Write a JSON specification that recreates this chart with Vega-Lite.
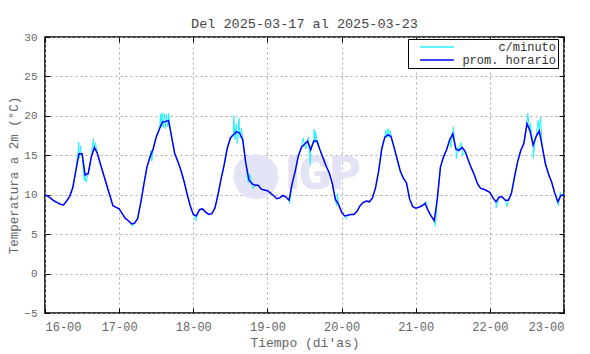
{
  "$schema": "https://vega.github.io/schema/vega-lite/v6.json",
  "width": 519,
  "height": 276,
  "autosize": {"type": "none"},
  "padding": {"left": 45, "top": 37, "right": 26, "bottom": 41},
  "background": "white",
  "title": {"text": "Del 2025-03-17 al 2025-03-23", "font": "Liberation Mono", "fontSize": 13.5, "fontWeight": "normal", "color": "#444444", "offset": 1, "anchor": "middle"},
  "config": {
    "view": {"stroke": "black", "strokeWidth": 1.6},
    "axis": {
      "domain": false,
      "tickColor": "black",
      "tickWidth": 1,
      "tickSize": -5,
      "gridColor": "#aaaaaa",
      "gridDash": [2, 3],
      "gridWidth": 1,
      "labelFont": "Liberation Mono",
      "labelFontSize": 12,
      "labelColor": "#666666",
      "titleFont": "Liberation Mono",
      "titleFontSize": 13,
      "titleFontWeight": "normal",
      "titleColor": "#666666"
    }
  },
  "datasets": {
    "temps": [
      {"t":0,"v":10.0,"k":"h"},{"t":1,"v":9.8,"k":"h"},{"t":2,"v":9.5,"k":"h"},{"t":3,"v":9.2,"k":"h"},{"t":4,"v":9.0,"k":"h"},{"t":5,"v":8.8,"k":"h"},{"t":6,"v":8.7,"k":"h"},{"t":7,"v":9.2,"k":"h"},{"t":8,"v":9.8,"k":"h"},{"t":9,"v":10.9,"k":"h"},{"t":10,"v":13.1,"k":"h"},{"t":11,"v":15.2,"k":"h"},{"t":12,"v":15.2,"k":"h"},{"t":13,"v":12.5,"k":"h"},{"t":14,"v":12.7,"k":"h"},{"t":15,"v":14.8,"k":"h"},{"t":16,"v":16.0,"k":"h"},{"t":17,"v":15.2,"k":"h"},{"t":18,"v":13.8,"k":"h"},{"t":19,"v":12.5,"k":"h"},{"t":20,"v":11.2,"k":"h"},{"t":21,"v":9.9,"k":"h"},{"t":22,"v":8.6,"k":"h"},{"t":23,"v":8.4,"k":"h"},
      {"t":24,"v":8.2,"k":"h"},{"t":25,"v":7.6,"k":"h"},{"t":26,"v":7.0,"k":"h"},{"t":27,"v":6.7,"k":"h"},{"t":28,"v":6.3,"k":"h"},{"t":29,"v":6.4,"k":"h"},{"t":30,"v":7.0,"k":"h"},{"t":31,"v":9.0,"k":"h"},{"t":32,"v":11.3,"k":"h"},{"t":33,"v":13.5,"k":"h"},{"t":34,"v":14.8,"k":"h"},{"t":35,"v":15.8,"k":"h"},{"t":36,"v":17.3,"k":"h"},{"t":37,"v":18.3,"k":"h"},{"t":38,"v":19.2,"k":"h"},{"t":39,"v":19.3,"k":"h"},{"t":40,"v":19.4,"k":"h"},{"t":41,"v":17.3,"k":"h"},{"t":42,"v":15.2,"k":"h"},{"t":43,"v":14.2,"k":"h"},{"t":44,"v":13.1,"k":"h"},{"t":45,"v":11.7,"k":"h"},{"t":46,"v":10.1,"k":"h"},{"t":47,"v":8.6,"k":"h"},
      {"t":48,"v":7.5,"k":"h"},{"t":49,"v":7.3,"k":"h"},{"t":50,"v":8.1,"k":"h"},{"t":51,"v":8.2,"k":"h"},{"t":52,"v":7.8,"k":"h"},{"t":53,"v":7.5,"k":"h"},{"t":54,"v":7.6,"k":"h"},{"t":55,"v":8.3,"k":"h"},{"t":56,"v":10.0,"k":"h"},{"t":57,"v":12.0,"k":"h"},{"t":58,"v":13.8,"k":"h"},{"t":59,"v":15.9,"k":"h"},{"t":60,"v":17.2,"k":"h"},{"t":61,"v":17.6,"k":"h"},{"t":62,"v":18.0,"k":"h"},{"t":63,"v":17.8,"k":"h"},{"t":64,"v":17.0,"k":"h"},{"t":65,"v":14.0,"k":"h"},{"t":66,"v":11.9,"k":"h"},{"t":67,"v":11.4,"k":"h"},{"t":68,"v":11.2,"k":"h"},{"t":69,"v":11.2,"k":"h"},{"t":70,"v":10.7,"k":"h"},{"t":71,"v":10.6,"k":"h"},
      {"t":72,"v":10.5,"k":"h"},{"t":73,"v":10.2,"k":"h"},{"t":74,"v":9.9,"k":"h"},{"t":75,"v":9.5,"k":"h"},{"t":76,"v":9.6,"k":"h"},{"t":77,"v":9.9,"k":"h"},{"t":78,"v":9.7,"k":"h"},{"t":79,"v":9.3,"k":"h"},{"t":80,"v":11.4,"k":"h"},{"t":81,"v":13.0,"k":"h"},{"t":82,"v":14.9,"k":"h"},{"t":83,"v":16.0,"k":"h"},{"t":84,"v":16.4,"k":"h"},{"t":85,"v":16.8,"k":"h"},{"t":86,"v":15.7,"k":"h"},{"t":87,"v":16.8,"k":"h"},{"t":88,"v":16.8,"k":"h"},{"t":89,"v":15.7,"k":"h"},{"t":90,"v":14.7,"k":"h"},{"t":91,"v":13.6,"k":"h"},{"t":92,"v":12.8,"k":"h"},{"t":93,"v":11.4,"k":"h"},{"t":94,"v":9.4,"k":"h"},{"t":95,"v":8.8,"k":"h"},
      {"t":96,"v":7.8,"k":"h"},{"t":97,"v":7.3,"k":"h"},{"t":98,"v":7.4,"k":"h"},{"t":99,"v":7.5,"k":"h"},{"t":100,"v":7.5,"k":"h"},{"t":101,"v":7.9,"k":"h"},{"t":102,"v":8.6,"k":"h"},{"t":103,"v":9.0,"k":"h"},{"t":104,"v":9.2,"k":"h"},{"t":105,"v":9.1,"k":"h"},{"t":106,"v":9.6,"k":"h"},{"t":107,"v":10.9,"k":"h"},{"t":108,"v":13.0,"k":"h"},{"t":109,"v":15.8,"k":"h"},{"t":110,"v":17.3,"k":"h"},{"t":111,"v":17.6,"k":"h"},{"t":112,"v":17.4,"k":"h"},{"t":113,"v":16.0,"k":"h"},{"t":114,"v":14.5,"k":"h"},{"t":115,"v":13.0,"k":"h"},{"t":116,"v":12.1,"k":"h"},{"t":117,"v":11.5,"k":"h"},{"t":118,"v":9.5,"k":"h"},{"t":119,"v":8.5,"k":"h"},
      {"t":120,"v":8.3,"k":"h"},{"t":121,"v":8.4,"k":"h"},{"t":122,"v":8.6,"k":"h"},{"t":123,"v":8.9,"k":"h"},{"t":124,"v":8.0,"k":"h"},{"t":125,"v":7.3,"k":"h"},{"t":126,"v":6.7,"k":"h"},{"t":127,"v":9.5,"k":"h"},{"t":128,"v":13.5,"k":"h"},{"t":129,"v":14.8,"k":"h"},{"t":130,"v":15.7,"k":"h"},{"t":131,"v":17.0,"k":"h"},{"t":132,"v":17.7,"k":"h"},{"t":133,"v":15.8,"k":"h"},{"t":134,"v":15.6,"k":"h"},{"t":135,"v":16.0,"k":"h"},{"t":136,"v":15.5,"k":"h"},{"t":137,"v":14.4,"k":"h"},{"t":138,"v":13.4,"k":"h"},{"t":139,"v":12.5,"k":"h"},{"t":140,"v":11.4,"k":"h"},{"t":141,"v":10.8,"k":"h"},{"t":142,"v":10.7,"k":"h"},{"t":143,"v":10.5,"k":"h"},
      {"t":144,"v":10.3,"k":"h"},{"t":145,"v":9.6,"k":"h"},{"t":146,"v":9.1,"k":"h"},{"t":147,"v":9.7,"k":"h"},{"t":148,"v":9.7,"k":"h"},{"t":149,"v":9.3,"k":"h"},{"t":150,"v":9.3,"k":"h"},{"t":151,"v":10.2,"k":"h"},{"t":152,"v":12.3,"k":"h"},{"t":153,"v":14.2,"k":"h"},{"t":154,"v":15.6,"k":"h"},{"t":155,"v":16.5,"k":"h"},{"t":156,"v":19.0,"k":"h"},{"t":157,"v":18.1,"k":"h"},{"t":158,"v":16.3,"k":"h"},{"t":159,"v":17.4,"k":"h"},{"t":160,"v":18.1,"k":"h"},{"t":161,"v":16.0,"k":"h"},{"t":162,"v":13.9,"k":"h"},{"t":163,"v":12.6,"k":"h"},{"t":164,"v":11.6,"k":"h"},{"t":165,"v":10.2,"k":"h"},{"t":166,"v":9.1,"k":"h"},{"t":167,"v":9.9,"k":"h"},
      {"t":168,"v":10.0,"k":"h"},
      {"t":10.7,"v":15.4,"k":"m"},{"t":10.9,"v":16.7,"k":"m"},{"t":11.1,"v":14.6,"k":"m"},{"t":11.5,"v":16.2,"k":"m"},{"t":11.8,"v":14.9,"k":"m"},{"t":12.7,"v":11.8,"k":"m"},{"t":13.3,"v":11.6,"k":"m"},{"t":15.4,"v":16.4,"k":"m"},{"t":15.7,"v":17.1,"k":"m"},{"t":15.9,"v":15.6,"k":"m"},{"t":16.3,"v":16.6,"k":"m"},{"t":20.6,"v":10.3,"k":"m"},{"t":21.5,"v":9.1,"k":"m"},
      {"t":28.3,"v":6.0,"k":"m"},{"t":34.3,"v":15.6,"k":"m"},{"t":34.6,"v":14.3,"k":"m"},{"t":36.6,"v":17.9,"k":"m"},{"t":37.2,"v":18.8,"k":"m"},{"t":37.4,"v":20.2,"k":"m"},{"t":37.6,"v":18.6,"k":"m"},{"t":37.9,"v":20.4,"k":"m"},{"t":38.3,"v":18.5,"k":"m"},{"t":38.6,"v":20.3,"k":"m"},{"t":39.0,"v":18.4,"k":"m"},{"t":39.3,"v":20.2,"k":"m"},{"t":39.7,"v":18.6,"k":"m"},{"t":40.0,"v":20.3,"k":"m"},{"t":40.4,"v":18.8,"k":"m"},
      {"t":48.9,"v":6.7,"k":"m"},{"t":60.6,"v":17.6,"k":"m"},{"t":61.1,"v":20.0,"k":"m"},{"t":61.5,"v":17.0,"k":"m"},{"t":61.9,"v":19.0,"k":"m"},{"t":62.3,"v":16.5,"k":"m"},{"t":62.8,"v":19.7,"k":"m"},{"t":63.2,"v":17.2,"k":"m"},{"t":63.6,"v":18.4,"k":"m"},{"t":65.8,"v":11.5,"k":"m"},{"t":66.4,"v":12.6,"k":"m"},{"t":67.2,"v":10.8,"k":"m"},
      {"t":79.2,"v":8.9,"k":"m"},{"t":83.6,"v":17.2,"k":"m"},{"t":84.4,"v":15.8,"k":"m"},{"t":85.2,"v":17.3,"k":"m"},{"t":85.9,"v":13.8,"k":"m"},{"t":86.4,"v":16.3,"k":"m"},{"t":87.1,"v":18.3,"k":"m"},{"t":87.4,"v":16.6,"k":"m"},{"t":87.6,"v":18.0,"k":"m"},{"t":88.3,"v":16.8,"k":"m"},{"t":94.4,"v":8.6,"k":"m"},{"t":94.7,"v":10.2,"k":"m"},
      {"t":97.6,"v":6.9,"k":"m"},{"t":110.3,"v":18.2,"k":"m"},{"t":110.6,"v":17.2,"k":"m"},{"t":111.0,"v":18.4,"k":"m"},{"t":111.4,"v":17.3,"k":"m"},{"t":111.8,"v":18.1,"k":"m"},{"t":112.2,"v":17.0,"k":"m"},
      {"t":123.3,"v":9.2,"k":"m"},{"t":126.4,"v":6.0,"k":"m"},{"t":130.8,"v":16.6,"k":"m"},{"t":131.4,"v":16.0,"k":"m"},{"t":131.8,"v":17.8,"k":"m"},{"t":132.2,"v":18.6,"k":"m"},{"t":132.5,"v":17.0,"k":"m"},{"t":133.2,"v":14.6,"k":"m"},{"t":133.6,"v":16.0,"k":"m"},{"t":134.6,"v":16.6,"k":"m"},{"t":135.1,"v":15.0,"k":"m"},
      {"t":146.0,"v":8.3,"k":"m"},{"t":149.6,"v":8.5,"k":"m"},{"t":155.4,"v":17.2,"k":"m"},{"t":156.3,"v":20.3,"k":"m"},{"t":156.7,"v":18.8,"k":"m"},{"t":157.1,"v":19.0,"k":"m"},{"t":158.1,"v":14.6,"k":"m"},{"t":158.6,"v":16.8,"k":"m"},{"t":159.6,"v":19.4,"k":"m"},{"t":160.0,"v":18.5,"k":"m"},{"t":160.4,"v":19.8,"k":"m"},{"t":160.8,"v":17.0,"k":"m"},{"t":166.2,"v":8.6,"k":"m"},{"t":166.8,"v":10.3,"k":"m"}
    ]
  },
  "data": {"name": "temps"},
  "layer": [
    {
      "mark": {"type": "point", "filled": true, "color": "#e3e5f7", "opacity": 1, "size": 1960},
      "encoding": {
        "x": {"datum": 68.3, "type": "quantitative", "axis": null},
        "y": {"datum": 12.3, "type": "quantitative", "axis": null}
      }
    },
    {
      "mark": {"type": "text", "text": "IGP", "font": "Roboto", "fontWeight": "bold", "fontSize": 46, "color": "#e3e3f6", "align": "center", "baseline": "middle"},
      "encoding": {
        "x": {"datum": 90.0, "type": "quantitative", "axis": null},
        "y": {"datum": 12.5, "type": "quantitative", "axis": null}
      }
    },
    {
      "mark": {"type": "line", "strokeWidth": 1, "interpolate": "linear"},
      "encoding": {
        "x": {"field": "t", "type": "quantitative", "scale": {"domain": [0, 168], "nice": false, "zero": false},
              "axis": {"orient": "bottom", "values": [0, 24, 48, 72, 96, 120, 144, 168], "labelExpr": "(16 + datum.value / 24) + '-00'", "title": "Tiempo (di'as)", "grid": true, "labelPadding": 13, "titlePadding": 4}},
        "y": {"field": "v", "type": "quantitative", "scale": {"domain": [-5, 30], "nice": false, "zero": false},
              "axis": {"orient": "left", "values": [-5, 0, 5, 10, 15, 20, 25, 30], "title": "Temperatura a 2m (°C)", "grid": true, "labelPadding": 13, "labelFontSize": 11, "titleFontSize": 12.5, "titlePadding": 3}},
        "color": {"datum": "c/minuto", "type": "nominal",
                  "scale": {"domain": ["c/minuto", "prom. horario"], "range": ["#22f0ff", "#0000ff"]},
                  "legend": {"orient": "none", "legendX": 363, "legendY": 2, "title": null, "symbolType": "M-4,0H4", "symbolSize": 72, "symbolStrokeWidth": 1.5, "symbolOffset": 21, "labelFont": "Liberation Mono", "labelFontSize": 12, "labelColor": "#333333", "labelAlign": "right", "labelOffset": 113, "strokeColor": "black", "fillColor": "white", "padding": 2, "rowPadding": 1, "cornerRadius": 0}}
      }
    },
    {
      "transform": [{"filter": "datum.k == 'h'"}],
      "mark": {"type": "line", "strokeWidth": 1.5, "interpolate": "linear"},
      "encoding": {
        "x": {"field": "t", "type": "quantitative",
              "axis": {"orient": "top", "values": [0, 24, 48, 72, 96, 120, 144, 168], "labels": false, "title": null, "grid": false}},
        "y": {"field": "v", "type": "quantitative",
              "axis": {"orient": "right", "values": [-5, 0, 5, 10, 15, 20, 25, 30], "labels": false, "title": null, "grid": false}},
        "color": {"datum": "prom. horario", "type": "nominal"}
      }
    }
  ]
}
